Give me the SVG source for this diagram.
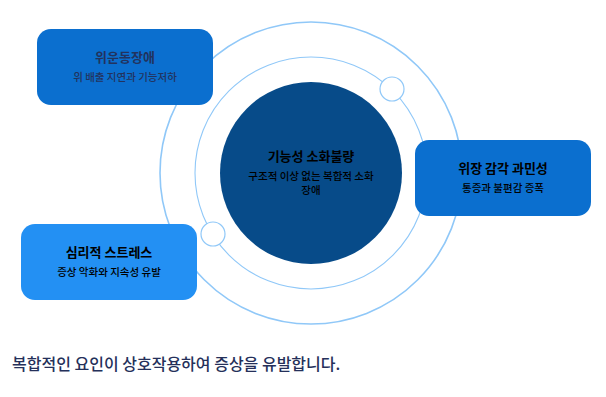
<svg xmlns="http://www.w3.org/2000/svg" width="606" height="397" viewBox="0 0 606 397">
<style>
text{font-family:"Noto Sans CJK KR","Noto Sans",sans-serif;text-anchor:middle}
.ring{fill:none;stroke:#90c8f8}
.dot{fill:#fff;stroke:#90c8f8;stroke-width:1.2}
.t{font-size:13px;font-weight:700}
.s{font-size:10.5px;font-weight:500}
</style>
<rect width="606" height="397" fill="#fff"/>
<g id="connectors">
<circle class="ring" cx="311" cy="173" r="151" stroke-width="1.6"/>
<circle class="ring" cx="311" cy="173" r="116" stroke-width="1.1"/>
</g>
<g id="center">
<circle cx="311" cy="173" r="91" fill="#074b89"/>
<text class="t" x="311" y="161" fill="#000">기능성 소화불량</text>
<text class="s" x="311" y="180" fill="#000">구조적 이상 없는 복합적 소화</text>
<text class="s" x="311" y="194" fill="#000">장애</text>
</g>
<g id="dot1"><circle class="dot" cx="392" cy="89" r="12"/></g>
<g id="dot2"><circle class="dot" cx="213" cy="234" r="12"/></g>
<g id="node1">
<rect x="37" y="29" width="176" height="76" rx="14" fill="#0b6fcf"/>
<text class="t" x="125" y="62" fill="#22335e">위운동장애</text>
<text class="s" x="125" y="81" fill="#22335e">위 배출 지연과 기능저하</text>
</g>
<g id="node2">
<rect x="415" y="140" width="176" height="76" rx="14" fill="#0b6fcf"/>
<text class="t" x="503" y="173" fill="#000">위장 감각 과민성</text>
<text class="s" x="503" y="192" fill="#000">통증과 불편감 증폭</text>
</g>
<g id="node3">
<rect x="21" y="224" width="176" height="76" rx="14" fill="#2390f3"/>
<text class="t" x="109" y="257" fill="#000">심리적 스트레스</text>
<text class="s" x="109" y="276" fill="#000">증상 악화와 지속성 유발</text>
</g>
<text x="12" y="370" style="text-anchor:start;font-size:16px;font-weight:500" fill="#25305a">복합적인 요인이 상호작용하여 증상을 유발합니다.</text>
</svg>
